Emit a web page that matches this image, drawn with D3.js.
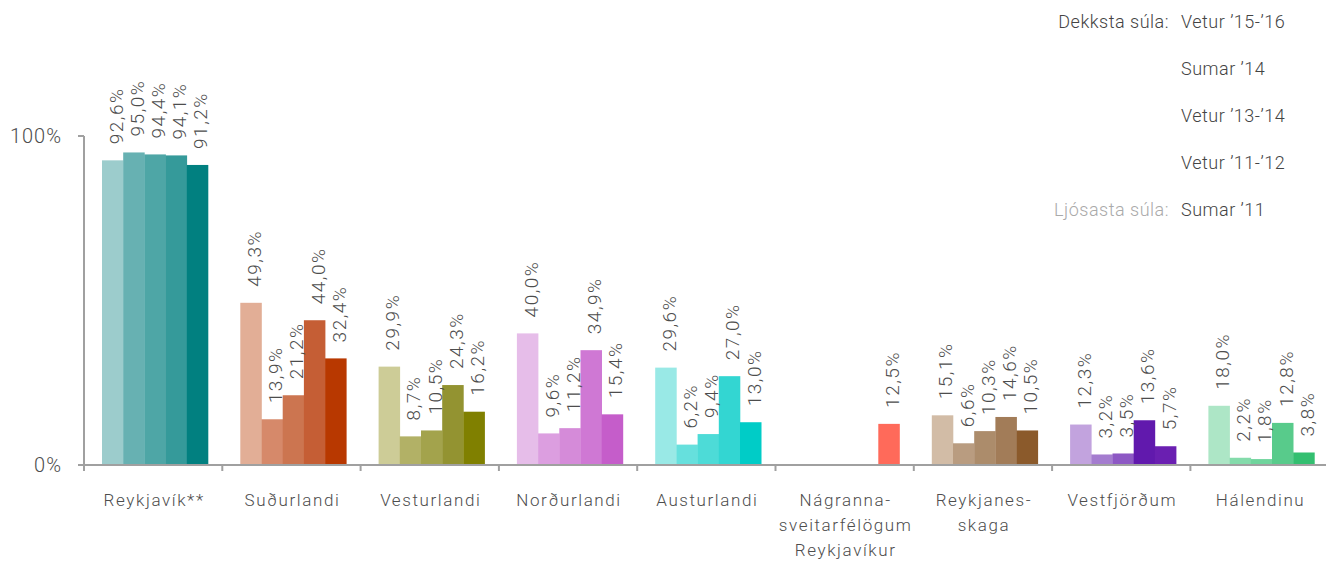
<!DOCTYPE html>
<html>
<head>
<meta charset="utf-8">
<script src="https://cdn.jsdelivr.net/npm/d3@7"></script>
<style>
  body { margin: 0; background: #fff; }
  text { font-family: Roboto, "DejaVu Sans", sans-serif; font-weight: 300; }
</style>
</head>
<body>
<div id="chart"></div>
<script>
// categories (regions) and the five survey periods, lightest -> darkest
const categories = ["Reykjavík**", "Suðurlandi", "Vesturlandi", "Norðurlandi", "Austurlandi",
    "Nágranna-|sveitarfélögum|Reykjavíkur", "Reykjanes-|skaga", "Vestfjörðum", "Hálendinu"];
const periods = ["Sumar ’11", "Vetur ’11-’12", "Vetur ’13-’14", "Sumar ’14", "Vetur ’15-’16"];

const sumar11   = [92.6, 49.3, 29.9, 40.0, 29.6, null, 15.1, 12.3, 18.0];
const vetur1112 = [95.0, 13.9,  8.7,  9.6,  6.2, null,  6.6,  3.2,  2.2];
const vetur1314 = [94.4, 21.2, 10.5, 11.2,  9.4, null, 10.3,  3.5,  1.8];
const sumar14   = [94.1, 44.0, 24.3, 34.9, 27.0, null, 14.6, 13.6, 12.8];
const vetur1516 = [91.2, 32.4, 16.2, 15.4, 13.0, 12.5, 10.5,  5.7,  3.8];

const series = [sumar11, vetur1112, vetur1314, sumar14, vetur1516];

const yTicks = [0, 100];

// colour ramps per region, light -> dark
const colors = [
    ["#9ccccc", "#67b1b2", "#4ea6a6", "#359a9a", "#018080"],
    ["#e2ae96", "#d6896a", "#cc7550", "#c55e35", "#b83800"],
    ["#cdcc97", "#b2b166", "#a3a34c", "#939331", "#808000"],
    ["#e6bde9", "#dc9ee0", "#d58bd9", "#cf78d4", "#c55dca"],
    ["#99e9e6", "#66e0dd", "#4ddbd7", "#33d6d2", "#00ccc7"],
    ["#ff6a5a", "#ff6a5a", "#ff6a5a", "#ff6a5a", "#ff6a5a"],
    ["#d2bca6", "#b99c80", "#ac8c6b", "#a27c58", "#8b5a2b"],
    ["#c2a3de", "#a47ccf", "#8d58c4", "#6119ad", "#6a1fb1"],
    ["#ade6c6", "#84dbab", "#6fd49c", "#58cb8b", "#33bf70"]
];

const W = 1326, H = 566;
const svg = d3.select("#chart").append("svg")
    .attr("width", W)
    .attr("height", H);

const x0 = 84, bandW = 138.3;
const x = d3.scaleBand()
    .domain(categories)
    .range([x0, x0 + bandW * categories.length]);
const xs = d3.scaleBand()
    .domain(d3.range(periods.length))
    .range([18, 124]);
const y = d3.scaleLinear()
    .domain([0, 100])
    .range([465, 136]);

const fmt = v => d3.format(".1f")(v).replace(".", ",") + "%";
const axisCol = "#a0a0a0", textCol = "#4d4d4d";

// bars
const groups = svg.selectAll(".grp")
    .data(categories)
    .enter().append("g")
    .attr("class", "grp")
    .attr("transform", d => `translate(${x(d)},0)`);

groups.each(function(cat, ci) {
    let g = d3.select(this);
    let vals = series.map((s, si) => ({si: si, v: s[ci]})).filter(d => d.v !== null);

    g.selectAll("rect")
        .data(vals)
        .enter().append("rect")
        .attr("x", d => xs(d.si))
        .attr("width", xs.bandwidth() + 0.3)
        .attr("y", d => y(d.v))
        .attr("height", d => y(0) - y(d.v))
        .attr("fill", d => colors[ci][d.si]);

    g.selectAll("text")
        .data(vals)
        .enter().append("text")
        .attr("transform", d => `translate(${xs(d.si) + xs.bandwidth() / 2 + 10},${y(d.v) - 16}) rotate(-90)`)
        .attr("fill", textCol)
        .attr("font-size", 19)
        .attr("letter-spacing", 1.5)
        .text(d => fmt(d.v));
});

// y axis
svg.append("line")
    .attr("x1", x0).attr("x2", x0)
    .attr("y1", y(100)).attr("y2", y(0) + 6)
    .attr("stroke", axisCol).attr("stroke-width", 2);
svg.selectAll(".ytick")
    .data(yTicks)
    .enter().append("line")
    .attr("x1", x0 - 6).attr("x2", x0)
    .attr("y1", d => y(d)).attr("y2", d => y(d))
    .attr("stroke", axisCol).attr("stroke-width", 2);
svg.selectAll(".ylab")
    .data(yTicks)
    .enter().append("text")
    .attr("x", 62)
    .attr("y", d => y(d))
    .attr("dy", "0.35em")
    .attr("text-anchor", "end")
    .attr("fill", textCol)
    .attr("font-size", 20)
    .attr("letter-spacing", 1)
    .text(d => d + "%");

// x axis
svg.append("line")
    .attr("x1", x0 - 6).attr("x2", W)
    .attr("y1", y(0)).attr("y2", y(0))
    .attr("stroke", axisCol).attr("stroke-width", 2);
svg.selectAll(".xtick")
    .data(categories)
    .enter().append("line")
    .attr("x1", d => x(d)).attr("x2", d => x(d))
    .attr("y1", y(0)).attr("y2", y(0) + 6)
    .attr("stroke", axisCol).attr("stroke-width", 2);

// category labels
svg.selectAll(".xlab")
    .data(categories)
    .enter().append("text")
    .attr("x", d => x(d) + bandW / 2 + 1)
    .attr("y", 506)
    .attr("text-anchor", "middle")
    .attr("fill", textCol)
    .attr("font-size", 17)
    .attr("letter-spacing", 1.6)
    .each(function(d) {
        d.split("|").forEach((line, i) => {
            d3.select(this).append("tspan")
                .attr("x", x(d) + bandW / 2 + 1)
                .attr("dy", i === 0 ? 0 : 25)
                .text(line);
        });
    });

// legend
const legY = d3.scalePoint()
    .domain(periods.slice().reverse())
    .range([22, 210]);
svg.selectAll(".leg")
    .data(periods)
    .enter().append("text")
    .attr("x", 1181)
    .attr("y", d => legY(d))
    .attr("dy", "0.35em")
    .attr("fill", "#444")
    .attr("font-size", 18)
    .attr("letter-spacing", 0.5)
    .text(d => d);
svg.append("text")
    .attr("x", 1169).attr("y", legY(periods[4])).attr("dy", "0.35em")
    .attr("text-anchor", "end").attr("fill", "#444").attr("font-size", 18)
    .attr("letter-spacing", 0.5)
    .text("Dekksta súla:");
svg.append("text")
    .attr("x", 1169).attr("y", legY(periods[0])).attr("dy", "0.35em")
    .attr("text-anchor", "end").attr("fill", "#aaa").attr("font-size", 18)
    .attr("letter-spacing", 0.5)
    .text("Ljósasta súla:");
</script>
</body>
</html>
